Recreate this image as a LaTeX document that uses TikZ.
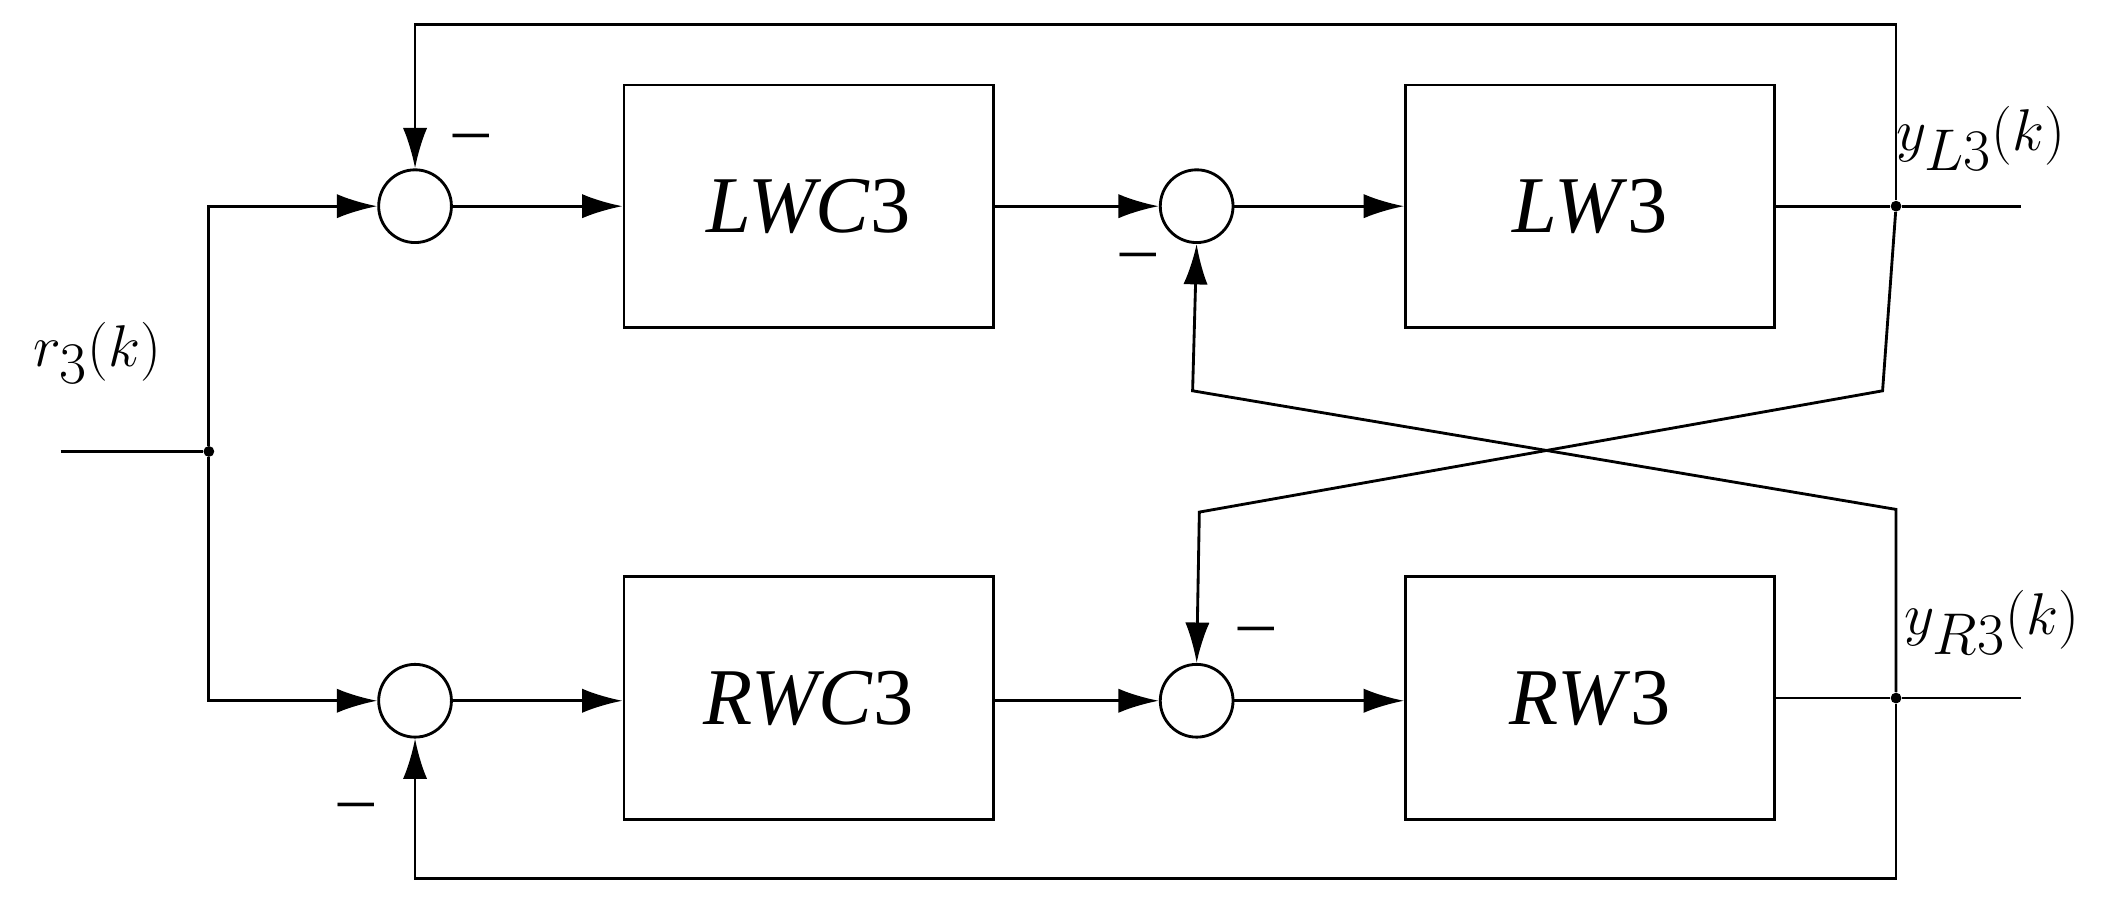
\documentclass[tikz,border=0pt]{standalone}
\usepackage{fontspec}
\setmainfont{Liberation Serif}
\usetikzlibrary{arrows.meta}
\begin{document}
\begin{tikzpicture}[x=0.02cm,y=-0.02cm,
  blk/.style={draw,line width=1.2pt,minimum width=5.48cm,minimum height=3.6cm,font=\fontsize{34}{40}\selectfont},
  sum/.style={draw,circle,line width=1.2pt,minimum size=1.08cm,inner sep=0},
  dot/.style={circle,fill,inner sep=0,minimum size=0.16cm},
  ln/.style={line width=1.2pt},
  arr/.style={ln,-{Latex[length=0.6cm,width=0.36cm]}},
  lab/.style={font=\fontsize{34}{40}\selectfont},
  mn/.style={font=\fontsize{30}{36}\selectfont}]
\useasboundingbox (0,0) rectangle (1568,677);
\node[sum] (s1) at (308,153) {};
\node[sum] (s2) at (888,153) {};
\node[sum] (s3) at (308,520) {};
\node[sum] (s4) at (888,520) {};
\node[blk] (lwc) at (600,153) {\textit{LWC}3};
\node[blk] (lw) at (1180,153) {\textit{LW}3};
\node[blk] (rwc) at (600,518) {\textit{RWC}3};
\node[blk] (rw) at (1180,518) {\textit{RW}3};
\node[dot] (jin) at (155,335) {};
\node[dot] (jl) at (1407,153) {};
\node[dot] (jr) at (1407,518) {};
\coordinate (in) at (45,335);
\coordinate (outl) at (1500,153);
\coordinate (outr) at (1500,518);
\draw[ln] (in) -- (jin);
\draw[arr] (jin) |- (s1.west);
\draw[arr] (jin) |- (s3.west);
\draw[arr] (s1) -- (lwc);
\draw[arr] (lwc.east|-s2) -- (s2);
\draw[arr] (s2) -- (lw.west|-s2);
\draw[ln] (lw.east|-jl) -- (jl) -- (outl);
\draw[arr] (s3) -- (rwc.west|-s3);
\draw[arr] (rwc.east|-s4) -- (s4);
\draw[arr] (s4) -- (rw.west|-s4);
\draw[ln] (rw.east|-jr) -- (jr) -- (outr);
\draw[arr] (jl) -- (1407,18) -- (308,18) -- (s1.north);
\draw[arr] (jr) -- (1407,652) -- (308,652) -- (s3.south);
\draw[arr] (jl) -- (1397,290) -- (890,380) -- (s4.north);
\draw[arr] (jr) -- (1407,378) -- (885,290) -- (s2.south);
\node[lab] at (72,262) {$r_3\Bigl(k\Bigr)$};
\node[lab] at (1470,103) {$y_{L3}\Bigl(k\Bigr)$};
\node[lab] at (1478,462) {$y_{R3}\Bigl(k\Bigr)$};
\node[mn] at (350,106) {--};
\node[mn] at (845,195) {--};
\node[mn] at (932,472) {--};
\node[mn] at (264,603) {--};
\end{tikzpicture}
\end{document}
